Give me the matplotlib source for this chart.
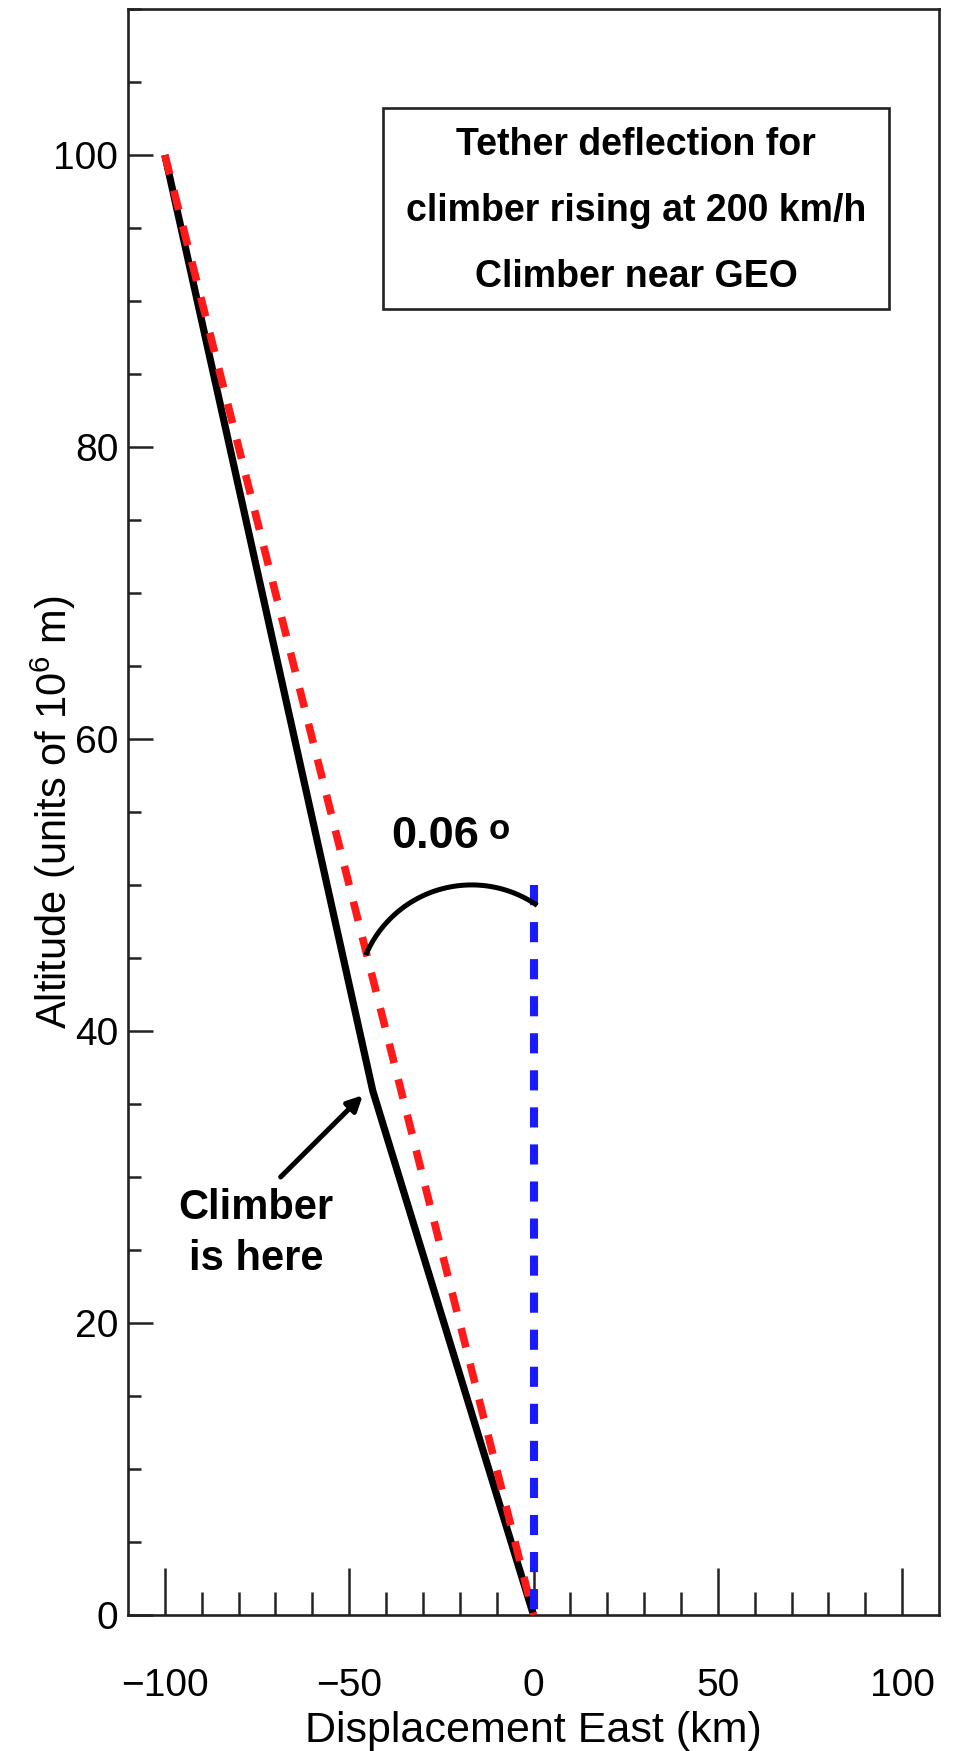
import numpy as np
import matplotlib
matplotlib.use("Agg")
import matplotlib.pyplot as plt
from matplotlib.patches import Rectangle

# ---------------- data ----------------
tether_x = [-100.0, -43.6, 0.0]          # deflected tether (km)
tether_y = [100.0, 35.9, 0.0]            # altitude (10^6 m)
straight_x = [-100.0, 0.0]               # straight reference line
straight_y = [100.0, 0.0]
vertical_x = [0.0, 0.0]                  # vertical reference
vertical_y = [50.0, 0.0]
arc_x = [-45.5, -17.9, 1.0]              # angle-marker arc: start, top, end
arc_y = [45.2, 50.0, 48.6]
arrow_tail = (-68.6, 30.0)
arrow_head = (-46.3, 35.6)
x_major = [-100, -50, 0, 50, 100]
x_minor = list(range(-100, 101, 10))
y_major = [0, 20, 40, 60, 80, 100]
y_minor = list(range(0, 111, 5))
angle_text = "0.06"
box_lines = ["Tether deflection for", "climber rising at 200 km/h", "Climber near GEO"]

# ---------------- style ----------------
plt.rcParams["font.family"] = ["Liberation Sans", "DejaVu Sans"]
plt.rcParams["mathtext.fontset"] = "custom"
plt.rcParams["mathtext.rm"] = "Liberation Sans"
plt.rcParams["mathtext.it"] = "Liberation Sans:italic"
plt.rcParams["axes.unicode_minus"] = True

W, H = 959, 1751
fig = plt.figure(figsize=(W / 100, H / 100), dpi=100)
L, R, T, B = 128, 939, 9, 1615
ax = fig.add_axes([L / W, 1 - B / H, (R - L) / W, (B - T) / H])
ax.set_xlim(-110, 110)
ax.set_ylim(0, 110)

for s in ax.spines.values():
    s.set_linewidth(1.9)
    s.set_color("#222222")

ax.set_xticks(x_major)
ax.set_xticks(x_minor, minor=True)
ax.set_yticks(y_major)
ax.set_yticks(y_minor, minor=True)
ax.set_xticklabels([f"{v:d}".replace("-", "\u2212") for v in x_major])
ax.tick_params(axis="x", which="major", direction="in", length=33.8, width=1.8,
               top=False, labelsize=28, pad=38, color="#222222")
ax.tick_params(axis="x", which="minor", direction="in", length=16.6, width=1.8,
               top=False, color="#222222")
ax.tick_params(axis="y", which="major", direction="in", length=18, width=1.8,
               right=False, labelsize=28, pad=7, color="#222222")
ax.tick_params(axis="y", which="minor", direction="in", length=9.4, width=1.8,
               right=False, color="#222222")

ax.set_xlabel("Displacement East (km)", fontsize=31, labelpad=5)
ax.set_ylabel("Altitude (units of 10$^{6}$ m)", fontsize=30)
ax.yaxis.set_label_coords(-0.062, 0.5)

# ---------------- lines ----------------
ax.plot(tether_x, tether_y, color="black", lw=5.2, solid_capstyle="butt", zorder=3)
ax.plot(straight_x, straight_y, color="#ff1a1a", lw=5.5, dashes=(2.6, 2.2),
        dash_capstyle="butt", zorder=4)
ax.plot(vertical_x, vertical_y, color="#1a1aff", lw=5.8, dashes=(2.5, 2.1),
        dash_capstyle="butt", zorder=4)

# ---------------- angle arc (circle through three points) ----------------
fig.canvas.draw()
pts = ax.transData.transform(np.column_stack([arc_x, arc_y]))
(x1, y1), (x2, y2), (x3, y3) = pts
A = np.array([[2 * (x2 - x1), 2 * (y2 - y1)], [2 * (x3 - x1), 2 * (y3 - y1)]])
b = np.array([x2**2 - x1**2 + y2**2 - y1**2, x3**2 - x1**2 + y3**2 - y1**2])
cx, cy = np.linalg.solve(A, b)
r = np.hypot(x1 - cx, y1 - cy)
a0 = np.arctan2(y1 - cy, x1 - cx)
am = np.arctan2(y2 - cy, x2 - cx)
a1 = np.arctan2(y3 - cy, x3 - cx)
if not (min(a0, a1) <= am <= max(a0, a1)):
    a1 = a1 + 2 * np.pi if a1 < a0 else a1 - 2 * np.pi
t = np.linspace(a0, a1, 100)
arc_disp = np.column_stack([cx + r * np.cos(t), cy + r * np.sin(t)])
arc_data = ax.transData.inverted().transform(arc_disp)
ax.plot(arc_data[:, 0], arc_data[:, 1], color="black", lw=3.6,
        solid_capstyle="butt", zorder=5)

ax.text(-26.6, 53.3, angle_text, fontsize=32.5, fontweight="bold",
        ha="center", va="center", zorder=6)
ax.text(-9.4, 53.8, "o", fontsize=25, fontweight="bold", ha="center",
        va="center", zorder=6)

# ---------------- climber annotation ----------------
ax.annotate("", xy=arrow_head, xytext=arrow_tail,
            arrowprops=dict(arrowstyle="-|>,head_length=0.9,head_width=0.45",
                            color="black", lw=3.6, shrinkA=0, shrinkB=0))
ax.text(-75.3, 27.9, "Climber", fontsize=30, fontweight="bold",
        ha="center", va="center")
ax.text(-75.3, 24.4, "is here", fontsize=30, fontweight="bold",
        ha="center", va="center")

# ---------------- title box ----------------
def ax_xy(px, py):
    return (px - L) / (R - L), (B - py) / (B - T)

bx0, by1 = ax_xy(383, 108)
bx1, by0 = ax_xy(889, 309)
ax.add_patch(Rectangle((bx0, by0), bx1 - bx0, by1 - by0, transform=ax.transAxes,
                       fill=False, edgecolor="#222222", lw=1.9, zorder=6))
tcx = (bx0 + bx1) / 2
for line, py in zip(box_lines, [145, 211, 277]):
    ax.text(tcx, ax_xy(0, py)[1], line, transform=ax.transAxes, fontsize=27,
            fontweight="bold", ha="center", va="center")

fig.savefig("out.png", dpi=100)
